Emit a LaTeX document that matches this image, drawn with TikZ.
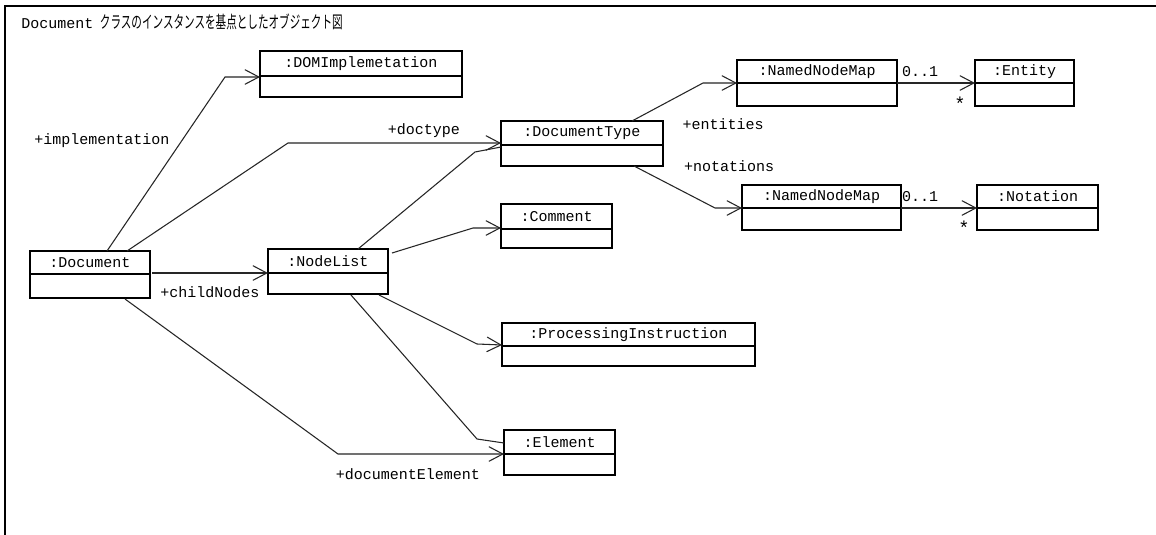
\documentclass[tikz,border=0pt]{standalone}
\usepackage{fontspec}
\setmonofont{Liberation Mono}
\newfontfamily\jpfont{Noto Sans CJK JP}
\usetikzlibrary{arrows.meta,fit,calc}

% one UML object box: name, x1, y1, x2, y2, y of the divider, label
\newcommand\umlobject[7]{%
  \coordinate (#1-nw) at (#2,#3);
  \coordinate (#1-se) at (#4,#5);
  \node[boxframe, fit=(#1-nw)(#1-se)] (#1) {};
  \coordinate (#1-div) at (#2,#6);
  \draw[boxline] (#1-div) -- (#4,#6);
  \node[classname] (#1-name) at ($(#2,#3)!0.5!(#4,#6)$) {#7};
}

\tikzset{
  boxframe/.style={draw, line width=1.3pt, inner sep=0pt, outer sep=0pt},
  boxline/.style={line width=1.1pt},
  classname/.style={font=\ttfamily\fontsize{11.25}{12}\selectfont, inner sep=0pt},
  lbl/.style={font=\ttfamily\fontsize{11.25}{12}\selectfont, inner sep=0pt},
  star/.style={font=\ttfamily\fontsize{14}{14}\selectfont, inner sep=0pt},
  link/.style={line width=0.8pt, draw=black!85},
  assoc/.style={link, -{Straight Barb[length=10.5pt,width=11pt]}},
}

\begin{document}
\begin{tikzpicture}[x=0.75pt, y=-0.75pt]
\useasboundingbox (0,0) rectangle (1156,535);
\fill[white] (0,0) rectangle (1156,535);

% outer frame
\draw[line width=1.5pt] (5,535) -- (5,6) -- (1156,6);

% title
\node[anchor=west, inner sep=0pt] (title) at (21,22)
  {\ttfamily\fontsize{11.25}{12}\selectfont Document\hspace{5pt}\scalebox{0.62}[1]{\jpfont\fontsize{12.8}{14}\selectfont クラスのインスタンスを基点としたオブジェクト図}};

% objects
\umlobject{impl}{260}{51}{462}{97}{76}{:DOMImplemetation}
\umlobject{doc}{30}{251}{150}{298}{274}{:Document}
\umlobject{nl}{268}{249}{388}{294}{273}{:NodeList}
\umlobject{dtype}{501}{121}{663}{166}{145}{:DocumentType}
\umlobject{nnma}{737}{60}{897}{106}{83}{:NamedNodeMap}
\umlobject{ent}{975}{60}{1074}{106}{83}{:Entity}
\umlobject{nnmb}{742}{185}{901}{230}{208}{:NamedNodeMap}
\umlobject{nota}{977}{185}{1098}{230}{208}{:Notation}
\umlobject{com}{501}{204}{612}{248}{229}{:Comment}
\umlobject{pi}{502}{323}{755}{366}{346}{:ProcessingInstruction}
\umlobject{elem}{504}{430}{615}{475}{454}{:Element}

% associations from Document
\draw[assoc] ($(doc.north west)+(77,0)$) -- (225,77) -- ($(impl.north west)+(0,26)$);
\draw[assoc] ($(doc.north west)+(97,0)$) -- (288,143) -- ($(dtype.north west)+(0,22)$);
\draw[assoc] ($(doc.north east)+(2,22)$) -- ($(nl.north west)+(0,24)$);
\draw[assoc] ($(doc.south west)+(95,1)$) -- (338,454) -- (elem-div);

% links from NodeList
\draw[link] ($(nl.north west)+(90,0)$) -- (475,152) -- ($(dtype.north west)+(0,26)$);
\draw[assoc] ($(nl.north east)+(4,4)$) -- (473,228) -- ($(com.north west)+(0,24)$);
\draw[assoc] ($(nl.south west)+(111,1)$) -- (477,344) -- ($(pi.north west)+(0,22)$);
\draw[link] ($(nl.south west)+(83,1)$) -- (477,439) -- ($(elem.north west)+(0,13)$);

% links from DocumentType
\draw[assoc] ($(dtype.north west)+(131,0)$) -- (703,83) -- (nnma-div);
\draw[assoc] ($(dtype.south west)+(133,0)$) -- (715,208) -- (nnmb-div);

% NamedNodeMap to its items
\draw[assoc] (nnma.east |- nnma-div) -- (ent-div);
\draw[assoc] (nnmb.east |- nnmb-div) -- (nota-div);

% role names and multiplicities
\node[lbl] (l-impl) at (102,141) {+implementation};
\node[lbl] (l-doctype) at (424,131) {+doctype};
\node[lbl] (l-child) at (210,292) {+childNodes};
\node[lbl] (l-docel) at (408,474) {+documentElement};
\node[lbl] (l-ent) at (723,124) {+entities};
\node[lbl] (l-not) at (729,166) {+notations};
\node[lbl] (m-a1) at (920,72) {0..1};
\node[star] (m-a2) at (960,104) {*};
\node[lbl] (m-b1) at (920,197) {0..1};
\node[star] (m-b2) at (964,228) {*};
\end{tikzpicture}
\end{document}
